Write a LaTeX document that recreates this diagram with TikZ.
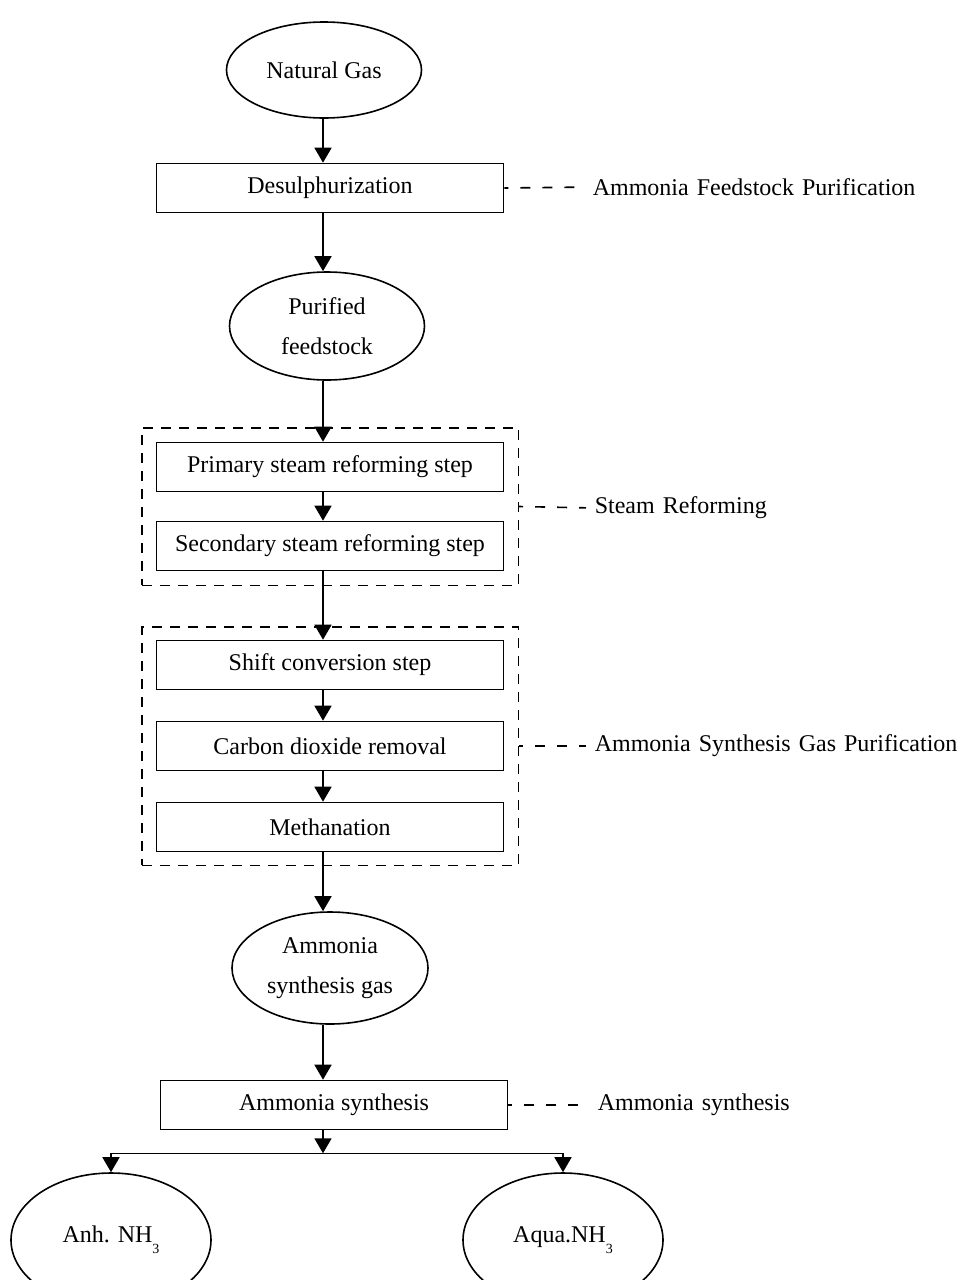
\documentclass[tikz,border=0pt]{standalone}
\usepackage{fontspec}
\setmainfont{Liberation Serif}
\usetikzlibrary{arrows.meta,shapes,fit,calc}

\tikzset{
  stepbox/.style={draw, rectangle, minimum width=173.5pt, minimum height=24.5pt, inner sep=2pt},
  stream/.style={draw, ellipse, minimum width=97.5pt, minimum height=54pt, inner sep=0pt, align=center},
  flow/.style={-{Triangle[length=7.5pt,width=8.5pt]}},
  group/.style={draw, dash pattern=on 5pt off 4pt, inner sep=7pt},
  note/.style={anchor=west, inner sep=0pt},
  link/.style={dash pattern=on 5pt off 6pt, dash phase=3pt, shorten >=4pt},
}

\begin{document}
\begin{tikzpicture}[x=0.5pt,y=-0.5pt,line width=0.8pt,font=\fontsize{12}{20}\selectfont]
\useasboundingbox (0,0) rectangle (969,1280);
\coordinate (spine) at (323,0);
%streams and steps
\node[stream,minimum height=48pt] (gas) at (324,70) {Natural Gas};
\node[stepbox] (desulf) at (330,188) {Desulphurization};
\node[stream] (feed) at (327,326) {Purified\\feedstock};
\node[stepbox] (primary) at (330,467) {Primary steam reforming step};
\node[stepbox] (secondary) at (330,546) {Secondary steam reforming step};
\node[stepbox] (shift) at (330,665) {Shift conversion step};
\node[stepbox] (co2) at (330,746) {Carbon dioxide removal};
\node[stepbox] (meth) at (330,827) {Methanation};
\node[stream,minimum width=98pt,minimum height=56pt] (sgas) at (330,968) {Ammonia\\synthesis gas};
\node[stepbox] (synth) at (334,1105) {Ammonia synthesis};
\node[stream,minimum width=100pt,minimum height=67pt] (anh) at (111,1240) {Anh. NH\raisebox{-1ex}{\scriptsize 3}};
\node[stream,minimum width=100pt,minimum height=67pt] (aqua) at (563,1240) {Aqua.NH\raisebox{-1ex}{\scriptsize 3}};
%groups
\node[group,fit=(primary)(secondary)] (reform) {};
\node[group,fit=(shift)(co2)(meth),inner ysep=6.5pt] (clean) {};
%section labels
\node[note] (lab1) at (592,187) {\spaceskip=4pt\relax Ammonia Feedstock Purification};
\node[note] (lab2) at (594,508) {\spaceskip=4pt\relax Steam Reforming};
\node[note] (lab3) at (594,746) {\spaceskip=4pt\relax Ammonia Synthesis Gas Purification};
\node[note] (lab4) at (597,1105) {\spaceskip=4pt\relax Ammonia synthesis};
\draw[link] (desulf.east) -- (lab1.west);
\draw[link] (reform.east) -- (lab2.west);
\draw[link] (clean.east) -- (lab3.west);
\draw[link] (synth.east) -- (lab4.west);
%flow
\draw[flow] (spine |- gas.south) -- (spine |- desulf.north);
\draw[flow] (spine |- desulf.south) -- (spine |- feed.north);
\draw[flow] (spine |- feed.south) -- (spine |- primary.north);
\draw[flow] (spine |- primary.south) -- (spine |- secondary.north);
\draw[flow] (spine |- secondary.south) -- (spine |- shift.north);
\draw[flow] (spine |- shift.south) -- (spine |- co2.north);
\draw[flow] (spine |- co2.south) -- (spine |- meth.north);
\draw[flow] (spine |- meth.south) -- (spine |- sgas.north);
\draw[flow] (spine |- sgas.south) -- (spine |- synth.north);
\coordinate (split) at ($(spine |- synth.south)+(0,23)$);
\draw[flow] (spine |- synth.south) -- (split);
\draw[flow] (split) -| (anh.north);
\draw[flow] (split) -| (aqua.north);
\end{tikzpicture}
\end{document}
